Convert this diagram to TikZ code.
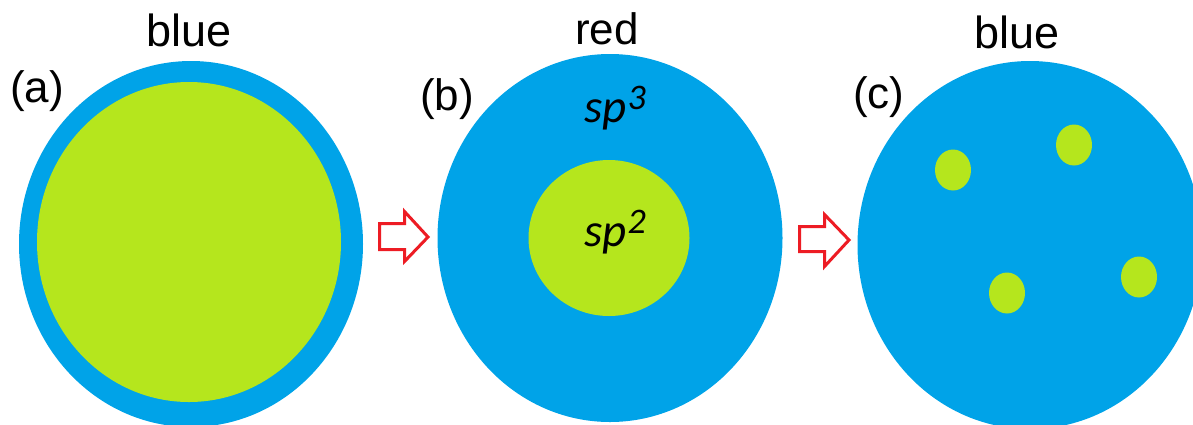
\documentclass[tikz,border=0pt]{standalone}
\usepackage{fontspec}
\setmainfont{Liberation Sans}
\newfontfamily\spfont{Carlito}
\usetikzlibrary{shapes.geometric}
\definecolor{bl}{RGB}{0,163,232}
\definecolor{gr}{RGB}{181,230,29}
\definecolor{rd}{RGB}{237,28,36}
\newcommand{\supdigit}[1]{\kern1pt\raisebox{13pt}{\fontsize{36}{36}\selectfont #1}}
\tikzset{
 blob/.style={ellipse,inner sep=0pt,outer sep=0pt,fill=bl},
 spot/.style={ellipse,inner sep=0pt,outer sep=0pt,fill=gr},
 lab/.style={font=\fontsize{44}{44}\selectfont,text=black,inner sep=0pt,anchor=base west},
 sp/.style={font=\fontsize{47}{47}\spfont\itshape,text=black,inner sep=0pt,anchor=base west},
 arr/.style={draw=rd,fill=white,line width=3pt,line join=miter},
}
\begin{document}
\begin{tikzpicture}[x=1pt,y=-1pt]
\useasboundingbox (0,0) rectangle (1193,424);
\begin{scope}
\clip (0,0) rectangle (1193,424);
\node[blob,minimum width=344pt,minimum height=366pt] (a) at (191,244) {};
\node[spot,minimum width=304pt,minimum height=320pt] (ai) at (189,242) {};
\node[blob,minimum width=345pt,minimum height=368pt] (b) at (610,238) {};
\node[spot,minimum width=161pt,minimum height=156pt] (bi) at (609,238) {};
\node[blob,minimum width=345pt,minimum height=368pt] (c) at (1030,245) {};
\node[spot,minimum width=36pt,minimum height=41pt] (c1) at (953,170) {};
\node[spot,minimum width=36pt,minimum height=41pt] (c2) at (1074,145) {};
\node[spot,minimum width=36pt,minimum height=41pt] (c3) at (1007,293) {};
\node[spot,minimum width=36pt,minimum height=41pt] (c4) at (1139,277) {};
\end{scope}
\node[lab,font=\fontsize{45}{45}\selectfont] (t1) at (146,46) {blue};
\node[lab] (t2) at (575,44) {red};
\node[lab,font=\fontsize{45}{45}\selectfont] (t3) at (974,48) {blue};
\node[lab] (la) at (10,102) {(a)};
\node[lab] (lb) at (420,110) {(b)};
\node[lab] (lc) at (853,108) {(c)};
\node[sp] (s3) at (584,122) {sp\supdigit{3}};
\node[sp] (s2) at (584,246) {sp\supdigit{2}};
\draw[arr] (379.5,223.5) -- (404.5,223.5) -- (404.5,211.5) -- (428,237) -- (404.5,261.5) -- (404.5,249.5) -- (379.5,249.5) -- cycle;
\draw[arr] (799.5,226.5) -- (824.5,226.5) -- (824.5,214.5) -- (849,240) -- (824.5,266.5) -- (824.5,251.5) -- (799.5,251.5) -- cycle;
\end{tikzpicture}
\end{document}
